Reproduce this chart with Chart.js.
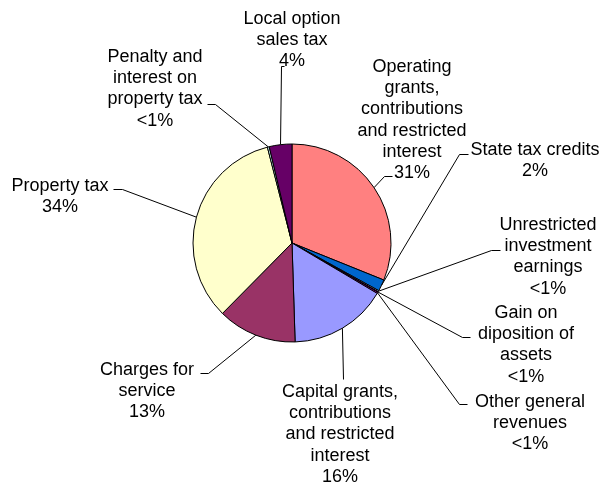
<!DOCTYPE html>
<html>
<head>
<meta charset="utf-8">
<script src="https://cdn.jsdelivr.net/npm/chart.js@4"></script>
<style>
  body { margin: 0; background: #fff; }
  canvas { display: block; }
</style>
</head>
<body>
<canvas id="pie" width="603" height="484"></canvas>
<script>
// slice data, clockwise from 12 o'clock
var categories = [
  'Operating grants, contributions and restricted interest',
  'State tax credits',
  'Unrestricted investment earnings',
  'Gain on diposition of assets',
  'Other general revenues',
  'Capital grants, contributions and restricted interest',
  'Charges for service',
  'Property tax',
  'Penalty and interest on property tax',
  'Local option sales tax'
];
var shares = [31.1, 1.9, 0.2, 0.1, 0.2, 16.0, 12.9, 33.6, 0.3, 3.7];
var sliceColors = ['#FF8080', '#0066CC', '#CCCCFF', '#000080', '#FF00FF',
                   '#9999FF', '#993366', '#FFFFCC', '#CCFFFF', '#660066'];

// how each label is broken into lines (as in the picture)
var labelLines = [
  ['Operating', 'grants,', 'contributions', 'and restricted', 'interest'],
  ['State tax credits'],
  ['Unrestricted', 'investment', 'earnings'],
  ['Gain on', 'diposition of', 'assets'],
  ['Other general', 'revenues'],
  ['Capital grants,', 'contributions', 'and restricted', 'interest'],
  ['Charges for', 'service'],
  ['Property tax'],
  ['Penalty and', 'interest on', 'property tax'],
  ['Local option', 'sales tax']
];

// label placement: text centre x, first line y, leader start points
var labelPos = [
  { x: 412, y: 67,  lead: [[392, 176], [384, 176]] },
  { x: 535, y: 150, lead: [[468, 154], [459, 154]] },
  { x: 548, y: 225, lead: [[500, 250], [491, 250]] },
  { x: 526, y: 313, lead: [[470, 337], [462, 337]] },
  { x: 530, y: 402, lead: [[467, 404], [459, 404]] },
  { x: 340, y: 392, lead: [[343, 379]] },
  { x: 147, y: 370, lead: [[200, 373], [208, 373]] },
  { x: 60,  y: 186, lead: [[113, 189], [122, 189]] },
  { x: 155, y: 57,  lead: [[207, 104], [215, 104]] },
  { x: 292, y: 19,  lead: [[284, 66], [281, 66]] }
];

function pctText(v, total) {
  var p = v / total * 100;
  return p < 1 ? '<1%' : Math.round(p) + '%';
}

var labelPlugin = {
  id: 'sliceLabels',
  afterDatasetsDraw: function (chart) {
    var ctx = chart.ctx;
    var arcs = chart.getDatasetMeta(0).data;
    var total = shares.reduce(function (a, b) { return a + b; }, 0);
    ctx.save();
    ctx.strokeStyle = '#000';
    ctx.lineWidth = 1;
    arcs.forEach(function (arc, i) {
      var p = arc.getProps(['x', 'y', 'startAngle', 'endAngle', 'outerRadius'], true);
      var mid = (p.startAngle + p.endAngle) / 2;
      var ax = p.x + Math.cos(mid) * p.outerRadius;
      var ay = p.y + Math.sin(mid) * p.outerRadius;
      var pos = labelPos[i];
      ctx.beginPath();
      pos.lead.forEach(function (pt, k) {
        if (k === 0) ctx.moveTo(pt[0] + 0.5, pt[1] + 0.5);
        else ctx.lineTo(pt[0] + 0.5, pt[1] + 0.5);
      });
      ctx.lineTo(ax, ay);
      ctx.stroke();

      var lines = labelLines[i].concat([pctText(shares[i], total)]);
      ctx.fillStyle = '#000';
      ctx.font = '18px "Liberation Sans", Arial, sans-serif';
      ctx.textAlign = 'center';
      ctx.textBaseline = 'middle';
      lines.forEach(function (t, k) {
        ctx.fillText(t, pos.x, pos.y + k * 21.2);
      });
    });
    ctx.restore();
  }
};

new Chart(document.getElementById('pie'), {
  type: 'pie',
  data: {
    labels: categories,
    datasets: [{
      data: shares,
      backgroundColor: sliceColors,
      borderColor: '#000',
      borderWidth: 1
    }]
  },
  options: {
    responsive: false,
    animation: false,
    radius: 99,
    layout: { padding: { left: 0, right: 19, top: 2, bottom: 0 } },
    plugins: {
      legend: { display: false },
      tooltip: { enabled: false }
    }
  },
  plugins: [labelPlugin]
});
</script>
</body>
</html>
